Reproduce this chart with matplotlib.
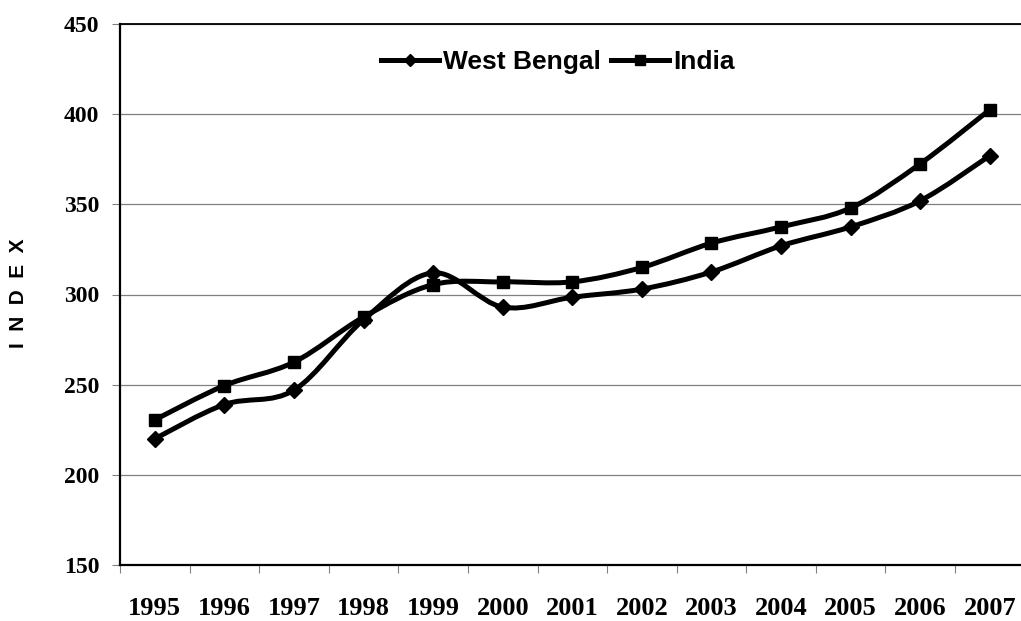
import numpy as np
import matplotlib.pyplot as plt
from matplotlib.path import Path
from matplotlib.patches import PathPatch
from matplotlib.lines import Line2D

years = ['1995', '1996', '1997', '1998', '1999', '2000', '2001',
         '2002', '2003', '2004', '2005', '2006', '2007']
west_bengal = [220, 239, 247, 286, 312, 293, 298.5, 303, 312.5, 327, 337.5, 352, 377]
india = [230.5, 249.5, 262.5, 287.5, 305.5, 307, 307, 315, 328.5, 337.5, 348, 372.5, 402.5]
yticks = [150, 200, 250, 300, 350, 400, 450]

serif = 'Liberation Serif'
sans = 'Liberation Sans'


def smooth_path(xs, ys):
    # excel-like smoothed line: bezier control points from neighbours
    pts = np.column_stack([xs, ys]).astype(float)
    ext = np.vstack([pts[0], pts, pts[-1]])
    verts = [pts[0]]
    codes = [Path.MOVETO]
    for i in range(len(pts) - 1):
        p0, p1, p2, p3 = ext[i], ext[i + 1], ext[i + 2], ext[i + 3]
        verts += [p1 + (p2 - p0) / 6, p2 - (p3 - p1) / 6, p2]
        codes += [Path.CURVE4] * 3
    return Path(verts, codes)


fig = plt.figure(figsize=(10.21, 6.21), dpi=100)
ax = fig.add_axes([120 / 1021, 56 / 621, 904.6 / 1021, 541 / 621])

x = np.arange(len(years))
for vals, mk in [(west_bengal, 'D'), (india, 's')]:
    ax.add_patch(PathPatch(smooth_path(x, vals), facecolor='none',
                           edgecolor='black', lw=3.6, capstyle='round',
                           joinstyle='round', zorder=3))
    ax.plot(x, vals, ls='none', marker=mk, ms=9 if mk == 's' else 8.5,
            color='black', zorder=4)

ax.set_xlim(-0.5, len(years) - 0.5)
ax.set_ylim(150, 450)

ax.set_yticks(yticks)
ax.set_yticklabels([str(v) for v in yticks], fontfamily=serif,
                   fontweight='bold', fontsize=17)
ax.set_xticks(x)
ax.set_xticklabels(years, fontfamily=serif, fontweight='bold', fontsize=19)
ax.set_xticks(np.arange(len(years) + 1) - 0.5, minor=True)

ax.tick_params(axis='y', direction='out', length=6, width=0.8,
               color='#808080', pad=9)
ax.tick_params(axis='x', which='major', length=0, pad=23)
ax.tick_params(axis='x', which='minor', direction='out', length=6,
               width=0.8, color='#808080')

ax.yaxis.grid(True, color='#808080', lw=0.9)
ax.set_axisbelow(True)

ax.spines['right'].set_visible(False)
ax.spines['top'].set_linewidth(1.3)
ax.spines['left'].set_linewidth(1.6)
ax.spines['bottom'].set_linewidth(1.6)

handles = [Line2D([], [], color='black', lw=3.6, marker='D', ms=6),
           Line2D([], [], color='black', lw=3.6, marker='s', ms=6.5)]
ax.legend(handles, ['West Bengal', 'India'], loc='center',
          bbox_to_anchor=(0.484, 0.93), ncol=2, frameon=False,
          prop={'family': sans, 'weight': 'bold', 'size': 19},
          handlelength=2.2, handletextpad=0.15, columnspacing=0.4)

fig.text(18 / 1021, 1 - 293 / 621, 'I  N  D  E  X', rotation=90,
         ha='center', va='center', fontsize=15, fontweight='bold',
         family=sans)

fig.savefig('out.png', dpi=100)
